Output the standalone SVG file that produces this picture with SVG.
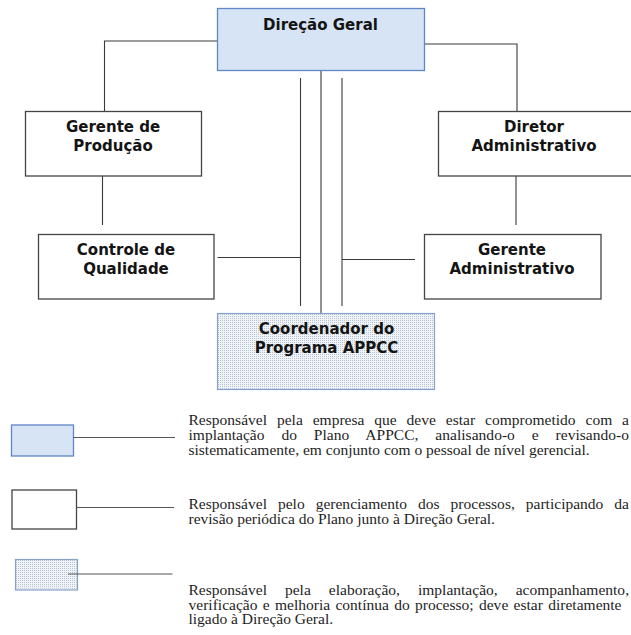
<svg xmlns="http://www.w3.org/2000/svg" width="631" height="635" viewBox="0 0 631 635">
<style>
.bg{fill:#ffffff}
.lead{fill:#d6e4f5;stroke:#5f86c6;stroke-width:1.3}
.mgr{fill:#ffffff;stroke:#444444;stroke-width:1.3}
.coord{fill:url(#dots);stroke:#86a2c9;stroke-width:1.2}
.conn{fill:none;stroke:#3a3a3a;stroke-width:1.1}
.leg{fill:none;stroke:#555555;stroke-width:1.1}
.t{font-family:"DejaVu Sans","Verdana",sans-serif;font-weight:bold;font-size:15px;fill:#141414;text-anchor:middle}
.d{font-family:"Liberation Serif","Times New Roman",serif;font-size:15.5px;fill:#1e1e1e}
</style>
<defs>
<pattern id="dots" width="2" height="2" patternUnits="userSpaceOnUse">
<rect width="2" height="2" fill="#f0f3f7"/>
<rect width="1" height="1" fill="#b9c4d3"/>
</pattern>
</defs>
<rect class="bg" x="0" y="0" width="631" height="635"/>

<g id="connectors">
<path class="conn" d="M217.5,41 H104.5 V111.5"/>
<path class="conn" d="M424.5,44 H517 V111.5"/>
<path class="conn" d="M102.5,176 V225"/>
<path class="conn" d="M516,176 V225"/>
<path class="conn" d="M321,70.5 V313.5"/>
<path class="conn" d="M300.5,78 V306"/>
<path class="conn" d="M342,78 V306"/>
<path class="conn" d="M217.5,257.5 H300.5"/>
<path class="conn" d="M342,259.5 H415"/>
</g>

<g id="direcao-geral">
<rect class="lead" x="217.5" y="8.5" width="207" height="62"/>
<text class="t" x="320.5" y="29.5">Direção Geral</text>
</g>

<g id="gerente-producao">
<rect class="mgr" x="25.5" y="111.5" width="176" height="64.5"/>
<text class="t" x="113" y="132">Gerente de</text>
<text class="t" x="113" y="151">Produção</text>
</g>

<g id="diretor-administrativo">
<rect class="mgr" x="438.5" y="111.5" width="200" height="64.5"/>
<text class="t" x="534" y="132">Diretor</text>
<text class="t" x="534" y="151">Administrativo</text>
</g>

<g id="controle-qualidade">
<rect class="mgr" x="38.5" y="234.5" width="175.5" height="64.5"/>
<text class="t" x="126" y="255">Controle de</text>
<text class="t" x="126" y="274">Qualidade</text>
</g>

<g id="gerente-administrativo">
<rect class="mgr" x="424.5" y="234.5" width="176.5" height="64.5"/>
<text class="t" x="512" y="255">Gerente</text>
<text class="t" x="512" y="274">Administrativo</text>
</g>

<g id="coordenador-appcc">
<rect class="coord" x="217.5" y="313.5" width="217" height="76"/>
<text class="t" x="326.5" y="333.5">Coordenador do</text>
<text class="t" x="326.5" y="352.5">Programa APPCC</text>
</g>

<g id="legenda-direcao">
<rect class="lead" x="11.5" y="425" width="62" height="31"/>
<path class="leg" d="M73.5,437.5 H175"/>
<text class="d" x="188.5" y="425" word-spacing="6" textLength="440.5" lengthAdjust="spacing">Responsável pela empresa que deve estar comprometido com a</text>
<text class="d" x="188.5" y="440" word-spacing="13" textLength="440.5" lengthAdjust="spacing">implantação do Plano APPCC, analisando-o e revisando-o</text>
<text class="d" x="188.5" y="455">sistematicamente, em conjunto com o pessoal de nível gerencial.</text>
</g>

<g id="legenda-gerencia">
<rect class="mgr" x="12" y="490" width="64.5" height="39"/>
<path class="leg" d="M76.5,507.5 H174"/>
<text class="d" x="188.5" y="509" word-spacing="7.1" textLength="440.5" lengthAdjust="spacing">Responsável pelo gerenciamento dos processos, participando da</text>
<text class="d" x="188.5" y="524">revisão periódica do Plano junto à Direção Geral.</text>
</g>

<g id="legenda-coordenador">
<rect class="coord" x="15.5" y="559.5" width="62" height="30.5"/>
<path class="leg" d="M68,574 H172.5"/>
<text class="d" x="188.5" y="595" word-spacing="14.1" textLength="440.5" lengthAdjust="spacing">Responsável pela elaboração, implantação, acompanhamento,</text>
<text class="d" x="188.5" y="609.5" word-spacing="1.4" textLength="433" lengthAdjust="spacing">verificação e melhoria contínua do processo; deve estar diretamente</text>
<text class="d" x="188.5" y="624">ligado à Direção Geral.</text>
</g>
</svg>
